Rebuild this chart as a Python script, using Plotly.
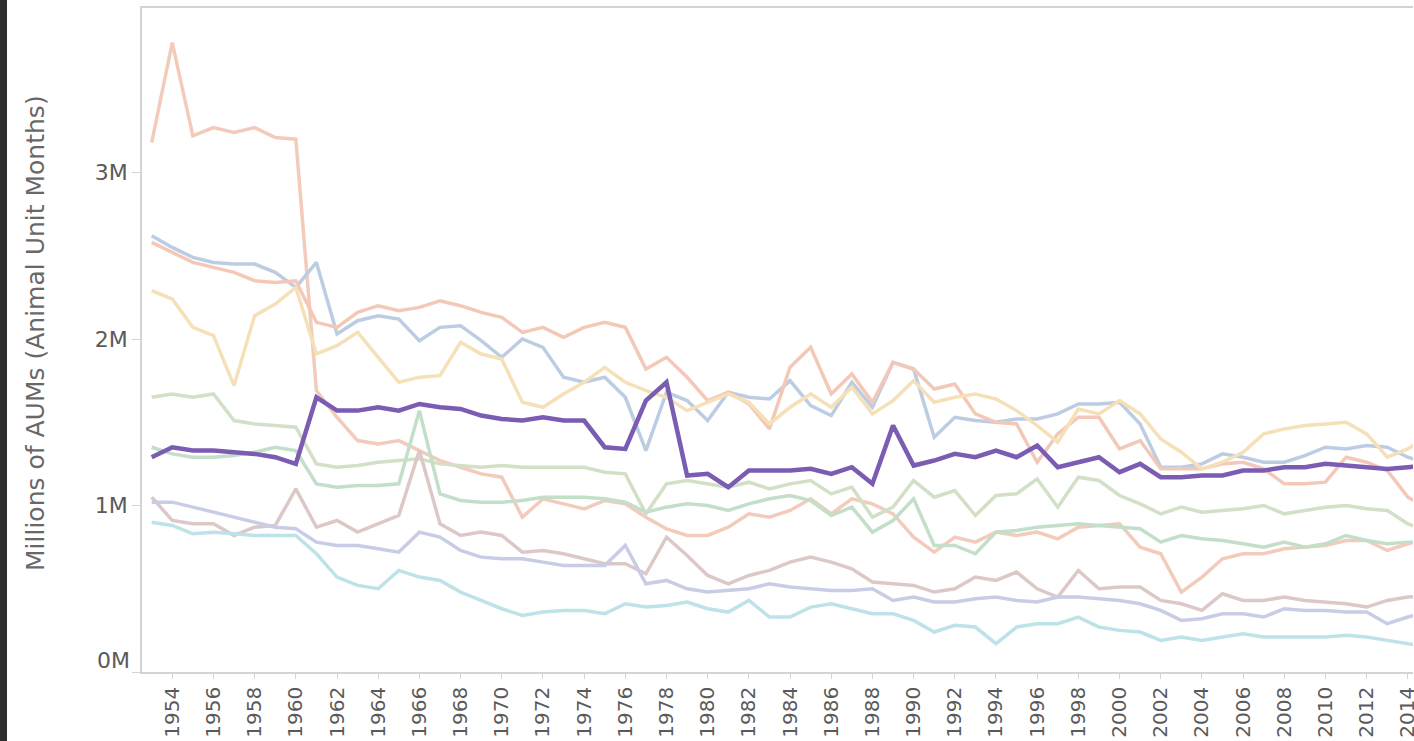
import plotly.graph_objects as go

years = list(range(1953, 2016))

highlight = [1.29, 1.35, 1.33, 1.33, 1.32, 1.31, 1.29, 1.25, 1.65, 1.57, 1.57, 1.59, 1.57, 1.61, 1.59, 1.58, 1.54, 1.52, 1.51, 1.53, 1.51, 1.51, 1.35, 1.34, 1.63, 1.74, 1.18, 1.19, 1.11, 1.21, 1.21, 1.21, 1.22, 1.19, 1.23, 1.13, 1.48, 1.24, 1.27, 1.31, 1.29, 1.33, 1.29, 1.36, 1.23, 1.26, 1.29, 1.20, 1.25, 1.17, 1.17, 1.18, 1.18, 1.21, 1.21, 1.23, 1.23, 1.25, 1.24, 1.23, 1.22, 1.23, 1.24]
blue = [2.62, 2.55, 2.49, 2.46, 2.45, 2.45, 2.40, 2.31, 2.46, 2.03, 2.11, 2.14, 2.12, 1.99, 2.07, 2.08, 1.99, 1.89, 2.00, 1.95, 1.77, 1.74, 1.77, 1.65, 1.33, 1.68, 1.63, 1.51, 1.68, 1.65, 1.64, 1.75, 1.60, 1.54, 1.74, 1.59, 1.86, 1.82, 1.41, 1.53, 1.51, 1.50, 1.52, 1.52, 1.55, 1.61, 1.61, 1.62, 1.49, 1.23, 1.23, 1.25, 1.31, 1.29, 1.26, 1.26, 1.30, 1.35, 1.34, 1.36, 1.35, 1.29, 1.25]
salmon = [2.58, 2.52, 2.46, 2.43, 2.40, 2.35, 2.34, 2.35, 2.10, 2.07, 2.16, 2.20, 2.17, 2.19, 2.23, 2.20, 2.16, 2.13, 2.04, 2.07, 2.01, 2.07, 2.10, 2.07, 1.82, 1.89, 1.77, 1.63, 1.68, 1.61, 1.46, 1.83, 1.95, 1.67, 1.79, 1.62, 1.86, 1.82, 1.70, 1.73, 1.55, 1.50, 1.49, 1.26, 1.43, 1.53, 1.53, 1.34, 1.39, 1.22, 1.22, 1.22, 1.25, 1.26, 1.22, 1.13, 1.13, 1.14, 1.29, 1.26, 1.21, 1.05, 0.98]
yellow = [2.29, 2.24, 2.07, 2.02, 1.72, 2.14, 2.21, 2.31, 1.91, 1.96, 2.04, 1.89, 1.74, 1.77, 1.78, 1.98, 1.91, 1.88, 1.62, 1.59, 1.67, 1.74, 1.83, 1.74, 1.69, 1.65, 1.57, 1.62, 1.67, 1.62, 1.49, 1.59, 1.67, 1.59, 1.71, 1.55, 1.63, 1.75, 1.62, 1.65, 1.67, 1.64, 1.57, 1.48, 1.38, 1.58, 1.55, 1.63, 1.55, 1.40, 1.32, 1.22, 1.26, 1.32, 1.43, 1.46, 1.48, 1.49, 1.50, 1.43, 1.29, 1.34, 1.42]
sage = [1.65, 1.67, 1.65, 1.67, 1.51, 1.49, 1.48, 1.47, 1.25, 1.23, 1.24, 1.26, 1.27, 1.28, 1.25, 1.24, 1.23, 1.24, 1.23, 1.23, 1.23, 1.23, 1.20, 1.19, 0.95, 1.13, 1.15, 1.13, 1.11, 1.14, 1.10, 1.13, 1.15, 1.07, 1.11, 0.93, 0.99, 1.15, 1.05, 1.09, 0.94, 1.06, 1.07, 1.16, 0.99, 1.17, 1.15, 1.06, 1.01, 0.95, 0.99, 0.96, 0.97, 0.98, 1.00, 0.95, 0.97, 0.99, 1.00, 0.98, 0.97, 0.89, 0.85]
green = [1.35, 1.31, 1.29, 1.29, 1.30, 1.32, 1.35, 1.33, 1.13, 1.11, 1.12, 1.12, 1.13, 1.57, 1.07, 1.03, 1.02, 1.02, 1.03, 1.05, 1.05, 1.05, 1.04, 1.02, 0.96, 0.99, 1.01, 1.00, 0.97, 1.01, 1.04, 1.06, 1.03, 0.94, 0.99, 0.84, 0.91, 1.04, 0.76, 0.76, 0.71, 0.84, 0.85, 0.87, 0.88, 0.89, 0.88, 0.87, 0.86, 0.78, 0.82, 0.80, 0.79, 0.77, 0.75, 0.78, 0.75, 0.77, 0.82, 0.79, 0.77, 0.78, 0.78]
red = [3.18, 3.78, 3.22, 3.27, 3.24, 3.27, 3.21, 3.20, 1.69, 1.53, 1.39, 1.37, 1.39, 1.33, 1.27, 1.23, 1.19, 1.17, 0.93, 1.04, 1.01, 0.98, 1.03, 1.01, 0.93, 0.86, 0.82, 0.82, 0.87, 0.95, 0.93, 0.97, 1.04, 0.95, 1.04, 1.01, 0.95, 0.81, 0.72, 0.81, 0.78, 0.84, 0.82, 0.84, 0.80, 0.87, 0.88, 0.89, 0.75, 0.71, 0.48, 0.57, 0.68, 0.71, 0.71, 0.74, 0.75, 0.76, 0.79, 0.79, 0.73, 0.77, 0.80]
brown = [1.05, 0.91, 0.89, 0.89, 0.82, 0.87, 0.88, 1.10, 0.87, 0.91, 0.84, 0.89, 0.94, 1.33, 0.89, 0.82, 0.84, 0.82, 0.72, 0.73, 0.71, 0.68, 0.65, 0.65, 0.59, 0.81, 0.70, 0.58, 0.53, 0.58, 0.61, 0.66, 0.69, 0.66, 0.62, 0.54, 0.53, 0.52, 0.48, 0.50, 0.57, 0.55, 0.60, 0.50, 0.45, 0.61, 0.50, 0.51, 0.51, 0.43, 0.41, 0.37, 0.47, 0.43, 0.43, 0.45, 0.43, 0.42, 0.41, 0.39, 0.43, 0.45, 0.46]
lavender = [1.02, 1.02, 0.99, 0.96, 0.93, 0.90, 0.87, 0.86, 0.78, 0.76, 0.76, 0.74, 0.72, 0.84, 0.81, 0.73, 0.69, 0.68, 0.68, 0.66, 0.64, 0.64, 0.64, 0.76, 0.53, 0.55, 0.50, 0.48, 0.49, 0.50, 0.53, 0.51, 0.50, 0.49, 0.49, 0.50, 0.43, 0.45, 0.42, 0.42, 0.44, 0.45, 0.43, 0.42, 0.45, 0.45, 0.44, 0.43, 0.41, 0.37, 0.31, 0.32, 0.35, 0.35, 0.33, 0.38, 0.37, 0.37, 0.36, 0.36, 0.29, 0.33, 0.36]
cyan = [0.90, 0.88, 0.83, 0.84, 0.83, 0.82, 0.82, 0.82, 0.71, 0.57, 0.52, 0.50, 0.61, 0.57, 0.55, 0.48, 0.43, 0.38, 0.34, 0.36, 0.37, 0.37, 0.35, 0.41, 0.39, 0.40, 0.42, 0.38, 0.36, 0.43, 0.33, 0.33, 0.39, 0.41, 0.38, 0.35, 0.35, 0.31, 0.24, 0.28, 0.27, 0.17, 0.27, 0.29, 0.29, 0.33, 0.27, 0.25, 0.24, 0.19, 0.21, 0.19, 0.21, 0.23, 0.21, 0.21, 0.21, 0.21, 0.22, 0.21, 0.19, 0.17, 0.15]

y_tick_vals = [0, 1, 2, 3]
y_tick_text = ["", "1M", "2M", "3M"]
x_tick_vals = list(range(1954, 2015, 2))
y_title = "Millions of AUMs (Animal Unit Months)"

faded = [
    ("Series 1", red, "#f3cbbb"),
    ("Series 2", blue, "#bccde3"),
    ("Series 3", salmon, "#f4c8b6"),
    ("Series 4", yellow, "#f5e0b8"),
    ("Series 5", sage, "#d2e0c7"),
    ("Series 6", green, "#c3dec9"),
    ("Series 7", brown, "#ddc8c8"),
    ("Series 8", lavender, "#c8cce7"),
    ("Series 9", cyan, "#bde2e8"),
]

fig = go.Figure()
for name, vals, col in faded:
    fig.add_trace(go.Scatter(x=years, y=[v * 1e6 for v in vals], mode="lines", name=name,
                             line=dict(color=col, width=3.5), hoverinfo="skip"))
fig.add_trace(go.Scatter(x=years, y=[v * 1e6 for v in highlight], mode="lines", name="Highlighted",
                         line=dict(color="#7a5cb3", width=4.5)))

W, H = 1414, 741
L, R, T, B = 142, 1, 8, 69
pw = W - L - R
ph = H - T - B
font = "DejaVu Sans, sans-serif"
tick_col = "#5a5a5a"

fig.update_layout(
    width=W, height=H,
    margin=dict(l=L, r=R, t=T, b=B, autoexpand=False),
    paper_bgcolor="white", plot_bgcolor="white",
    showlegend=False,
    font=dict(family=font, color=tick_col),
    xaxis=dict(range=[1952.53, 2014.25], tickvals=x_tick_vals, ticktext=[str(v) for v in x_tick_vals],
               tickangle=-90, tickfont=dict(size=20, color=tick_col), ticklabeloverflow="allow",
               showgrid=False, zeroline=False, showline=True, linecolor="#d4d4d4", linewidth=1.5,
               mirror=True, ticks="outside", ticklen=5, tickcolor="#d4d4d4"),
    yaxis=dict(range=[0, 3.988e6], tickvals=[v * 1e6 for v in y_tick_vals], ticktext=y_tick_text,
               tickfont=dict(size=22, color=tick_col),
               showgrid=False, zeroline=False, showline=True, linecolor="#d4d4d4", linewidth=1.5,
               ticks="outside", ticklen=8, tickcolor="#d4d4d4"),
    annotations=[
        dict(text="0M", xref="paper", yref="y", x=-10 / pw, y=0, xanchor="right", yanchor="middle",
             yshift=12, showarrow=False, font=dict(size=22, color=tick_col)),
        dict(text=y_title, xref="paper", yref="paper", x=(35 - L) / pw, y=(672 - 333) / ph,
             xanchor="center", yanchor="middle", textangle=-90, showarrow=False,
             font=dict(size=25, color="#686868")),
    ],
    shapes=[
        dict(type="rect", xref="paper", yref="paper", x0=-L / pw, x1=(-L + 7) / pw,
             y0=-B / ph, y1=1 + T / ph, fillcolor="#2e2e2e", line=dict(width=0), layer="above"),
    ],
)

fig.write_html("out.html", config={"displayModeBar": False},
               post_script="document.body.style.margin='0';document.body.style.padding='0';")
